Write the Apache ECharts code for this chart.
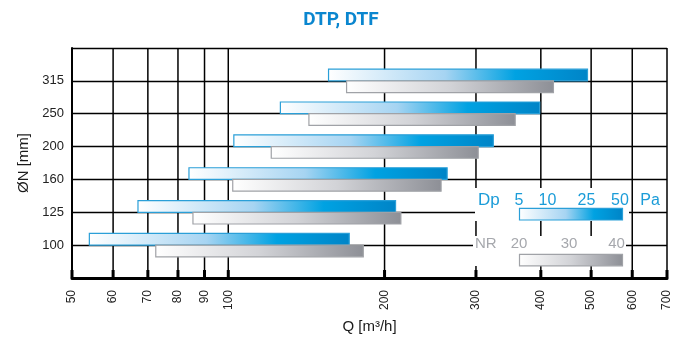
<!DOCTYPE html>
<html>
<head>
<meta charset="utf-8">
<script src="https://cdn.jsdelivr.net/npm/echarts@6/dist/echarts.min.js"></script>
<style>html,body{margin:0;padding:0;background:#fff;}#c{width:682px;height:340px;}</style>
</head>
<body>
<div id="c"></div>
<script>
// ---- data ----
const categories = ['100', '125', '160', '200', '250', '315'];
const dpMin = [54, 67, 84, 102.5, 126, 156];
const dpMax = [171, 210, 264, 324, 398, 492];
const nrMin = [72.5, 85.5, 102, 121, 143, 169];
const nrMax = [182, 215, 257, 303, 357, 423];
const xTicks = [50, 60, 70, 80, 90, 100, 200, 300, 400, 500, 600, 700];
const dpLegendLabels = ['5', '10', '25', '50'];
const nrLegendLabels = ['20', '30', '40'];

const FONT = 'Liberation Sans, Arial, sans-serif';
const BAR_H = 0.356; // bar thickness in category units

const blueGrad = {type: 'linear', x: 0, y: 0, x2: 1, y2: 0, colorStops: [
  {offset: 0, color: '#ffffff'}, {offset: 0.45, color: '#a6d4f2'},
  {offset: 0.72, color: '#00a2e2'}, {offset: 1, color: '#0084c7'}]};
const greyGrad = {type: 'linear', x: 0, y: 0, x2: 1, y2: 0, colorStops: [
  {offset: 0, color: '#ffffff'}, {offset: 0.5, color: '#d2d3d7'}, {offset: 1, color: '#8d8f96'}]};

const chart = echarts.init(document.getElementById('c'));

function barRender(kind) {
  return function (params, api) {
    const c = api.value(0) + 1;
    const p0 = api.coord([api.value(1), c]);
    const p1 = api.coord([api.value(2), c]);
    const pt = api.coord([api.value(1), c + BAR_H]);
    const h = p0[1] - pt[1];
    const y = kind === 'dp' ? p0[1] - h : p0[1];
    return {
      type: 'rect',
      shape: {x: p0[0], y: y, width: p1[0] - p0[0], height: h},
      style: {
        fill: kind === 'dp' ? blueGrad : greyGrad,
        stroke: kind === 'dp' ? '#2a9fd8' : '#a0a2a7',
        lineWidth: 1.2
      }
    };
  };
}

const dpData = categories.map((c, i) => [i, dpMin[i], dpMax[i]]);
const nrData = categories.map((c, i) => [i, nrMin[i], nrMax[i]]);

const option = {
  animation: false,
  backgroundColor: '#fff',
  title: {
    text: 'DTP, DTF', left: 'center', top: 6,
    textStyle: {fontSize: 19, fontWeight: 'bold', color: '#0a86cf', fontFamily: 'Roboto, sans-serif'}
  },
  grid: {left: 72, right: 15, top: 48, bottom: 62, containLabel: false},
  xAxis: {
    type: 'log', logBase: 10, min: 50, max: 700,
    name: 'Q [m³/h]', nameLocation: 'middle', nameGap: 41,
    nameTextStyle: {fontSize: 15, color: '#1a1a1a', fontFamily: FONT},
    axisLine: {show: true, lineStyle: {color: '#000', width: 3}},
    axisTick: {show: false}, axisLabel: {show: false}, splitLine: {show: false}
  },
  yAxis: {
    type: 'value', min: 0, max: 7, interval: 1,
    name: 'ØN [mm]', nameLocation: 'middle', nameGap: 40,
    nameTextStyle: {fontSize: 15, color: '#1a1a1a', fontFamily: FONT},
    axisLine: {show: true, lineStyle: {color: '#000', width: 2}},
    axisTick: {show: false},
    axisLabel: {
      fontSize: 13, color: '#222', fontFamily: FONT, margin: 8,
      formatter: v => categories[v - 1] || ''
    },
    splitLine: {show: true, lineStyle: {color: '#000', width: 1.3}}
  },
  series: [
    {
      type: 'custom', name: 'grid', z: 1, silent: true,
      data: xTicks.map(v => [v]),
      renderItem: function (params, api) {
        const v = api.value(0);
        const b = api.coord([v, 0]);
        const t = api.coord([v, 7]);
        return {type: 'group', children: [
          {type: 'line', shape: {x1: b[0], y1: b[1], x2: t[0], y2: t[1]}, style: {stroke: '#000', lineWidth: 1.5}},
          {type: 'rect', shape: {x: b[0] - 1.5, y: b[1] - 8, width: 3, height: 8}, style: {fill: '#000'}},
          {type: 'text', x: b[0], y: b[1] + 12, rotation: Math.PI / 2,
           style: {text: String(v), align: 'right', verticalAlign: 'middle', fontSize: 12, fill: '#222', fontFamily: FONT}}
        ]};
      }
    },
    {type: 'custom', name: 'Dp', z: 3, data: dpData, renderItem: barRender('dp')},
    {type: 'custom', name: 'NR', z: 3, data: nrData, renderItem: barRender('nr')}
  ],
  graphic: [
    {type: 'rect', z: 10, shape: {x: 475, y: 188, width: 154, height: 33}, style: {fill: '#fff'}},
    {type: 'rect', z: 10, shape: {x: 473, y: 236, width: 153, height: 30}, style: {fill: '#fff'}},
    {type: 'rect', z: 11, shape: {x: 519.5, y: 208.3, width: 103, height: 11.7}, style: {fill: blueGrad, stroke: '#2a9fd8', lineWidth: 1.2}},
    {type: 'rect', z: 11, shape: {x: 519.5, y: 254.3, width: 103, height: 11.5}, style: {fill: greyGrad, stroke: '#a0a2a7', lineWidth: 1.2}},
    {type: 'text', z: 12, x: 478, y: 200.5, style: {text: 'Dp', align: 'left', verticalAlign: 'middle', fontSize: 17, fill: '#1b9cd8', fontFamily: FONT}},
    {type: 'text', z: 12, x: 519, y: 200.5, style: {text: dpLegendLabels[0], align: 'center', verticalAlign: 'middle', fontSize: 16, fill: '#1b9cd8', fontFamily: FONT}},
    {type: 'text', z: 12, x: 547.5, y: 200.5, style: {text: dpLegendLabels[1], align: 'center', verticalAlign: 'middle', fontSize: 16, fill: '#1b9cd8', fontFamily: FONT}},
    {type: 'text', z: 12, x: 586.5, y: 200.5, style: {text: dpLegendLabels[2], align: 'center', verticalAlign: 'middle', fontSize: 16, fill: '#1b9cd8', fontFamily: FONT}},
    {type: 'text', z: 12, x: 620, y: 200.5, style: {text: dpLegendLabels[3], align: 'center', verticalAlign: 'middle', fontSize: 16, fill: '#1b9cd8', fontFamily: FONT}},
    {type: 'text', z: 12, x: 650, y: 200.5, style: {text: 'Pa', align: 'center', verticalAlign: 'middle', fontSize: 16, fill: '#1b9cd8', fontFamily: FONT}},
    {type: 'text', z: 12, x: 475, y: 243.5, style: {text: 'NR', align: 'left', verticalAlign: 'middle', fontSize: 15, fill: '#a6a8ad', fontFamily: FONT}},
    {type: 'text', z: 12, x: 519, y: 243.5, style: {text: nrLegendLabels[0], align: 'center', verticalAlign: 'middle', fontSize: 15, fill: '#a6a8ad', fontFamily: FONT}},
    {type: 'text', z: 12, x: 569, y: 243.5, style: {text: nrLegendLabels[1], align: 'center', verticalAlign: 'middle', fontSize: 15, fill: '#a6a8ad', fontFamily: FONT}},
    {type: 'text', z: 12, x: 616.5, y: 243.5, style: {text: nrLegendLabels[2], align: 'center', verticalAlign: 'middle', fontSize: 15, fill: '#a6a8ad', fontFamily: FONT}}
  ]
};
chart.setOption(option);
</script>
</body>
</html>
